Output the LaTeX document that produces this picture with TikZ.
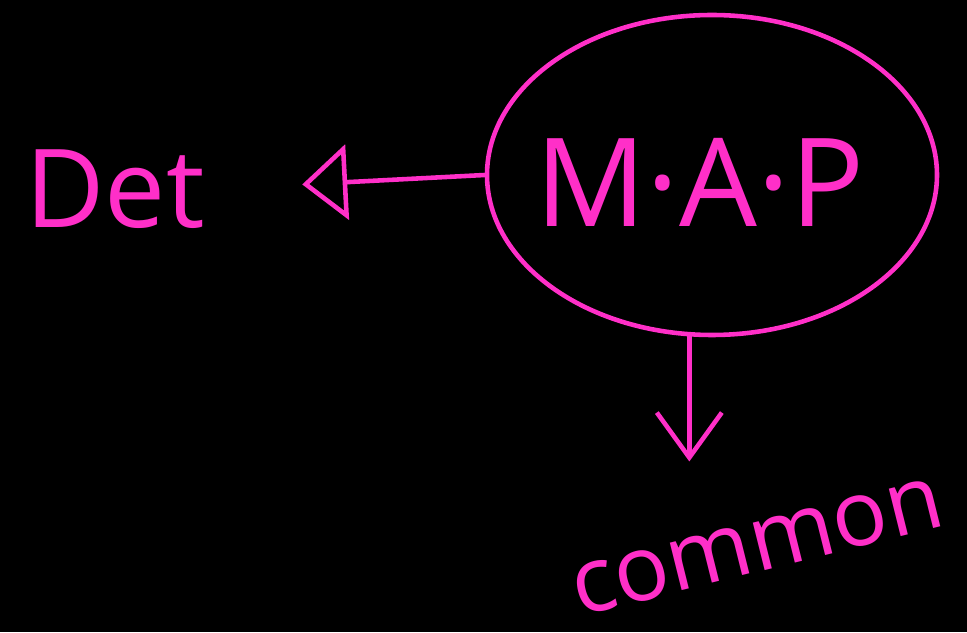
\documentclass[tikz,border=0pt]{standalone}
\usepackage{fontspec}
\setmainfont{Open Sans}
\usepackage{tikz}
\usetikzlibrary{arrows.meta,positioning,calc,shapes.geometric}
\definecolor{rosevif}{HTML}{FF2FC8}
\tikzset{
  mot/.style={text=rosevif, inner sep=0pt, font=\fontsize{#1}{#1}\selectfont},
  bulle/.style={ellipse, draw=rosevif, line width=2.6pt, minimum width=9cm,
                minimum height=6.4cm, inner sep=0pt},
  arr/.style={line width=2.6pt, draw=rosevif, line cap=round},
}
\begin{document}
\begin{tikzpicture}
        \fill[black] (0,0) rectangle (19.34,12.64);
        \useasboundingbox (0,0) rectangle (19.34,12.64);
        \node[bulle] (map) at (14.24,9.14) {};
        \node[mot=70] (lettres) at (14.0,9.0) {M·A·P};
        \node[mot=62] (det) at (2.3,8.85) {Det};
        \node[mot=52, rotate=14] (common) at (15.15,1.7) {common};
        \coordinate (bas) at ($(map.262)+(0,-2.5)$);
        \draw[arr, -{Triangle[open, length=9mm, width=15mm, line width=2.6pt]}, shorten >=1.95cm]
          (map.west) -- (det.east);
        \draw[arr, -{Straight Barb[length=9mm, width=13mm, line width=2.6pt]}]
          (map.262) -- (bas);
      \end{tikzpicture}
\end{document}
